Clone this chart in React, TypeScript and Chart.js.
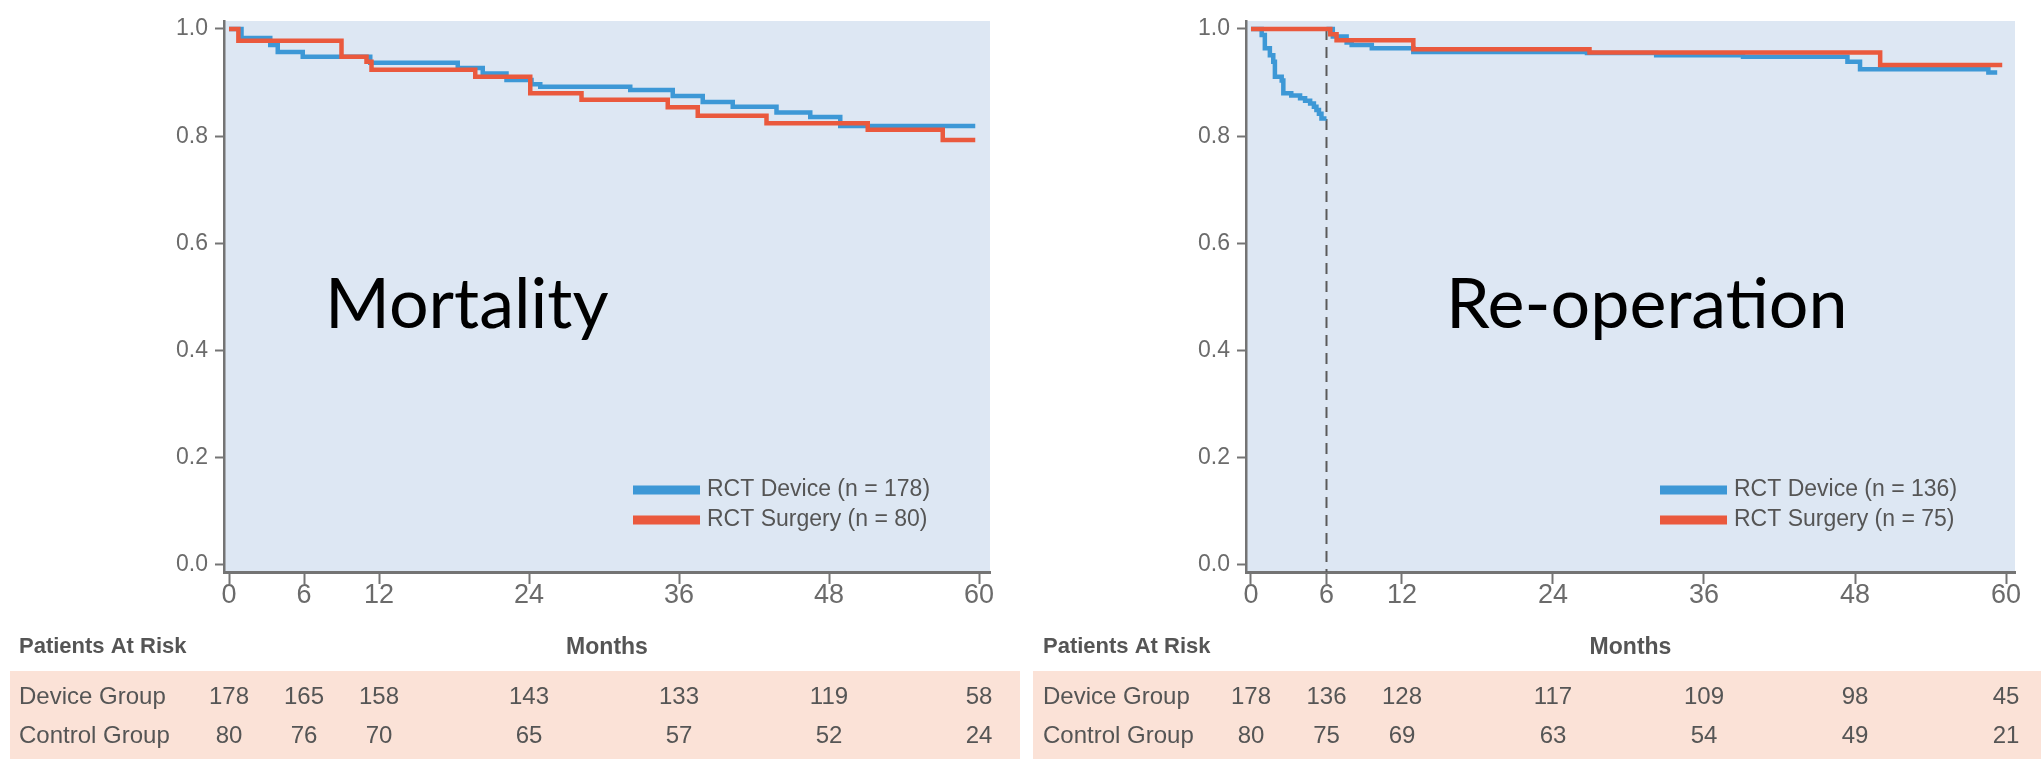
import React, { useEffect, useRef } from 'react';
import { Chart, registerables } from 'chart.js';

Chart.register(...registerables);

// ---------------- data ----------------
const MONTH_TICKS = [0, 6, 12, 24, 36, 48, 60];
const SURV_TICKS = [0, 0.2, 0.4, 0.6, 0.8, 1.0];
const ROW_LABELS = ['Device Group', 'Control Group'];
const PANEL_TITLES = ['Mortality', 'Re-operation'];
const MORT_LEGEND = ['RCT Device (n = 178)', 'RCT Surgery (n = 80)'];
const REOP_LEGEND = ['RCT Device (n = 136)', 'RCT Surgery (n = 75)'];
const REOP_MARKER_MONTH = 6;

// Mortality – Kaplan-Meier steps (month of event, survival after event)
const mortDeviceT = [0, 1.0, 3.3, 3.9, 5.9, 11.3, 18.3, 20.3, 22.2, 24.2, 24.9, 32.1, 35.5, 37.9, 40.3, 43.8, 46.5, 48.9, 59.7];
const mortDeviceS = [1.0, 0.983, 0.970, 0.957, 0.948, 0.937, 0.927, 0.917, 0.905, 0.897, 0.892, 0.886, 0.875, 0.864, 0.855, 0.844, 0.836, 0.819, 0.819];
const mortSurgeryT = [0, 0.75, 9.0, 11.0, 11.4, 19.7, 24.1, 28.2, 35.1, 37.5, 43.0, 51.1, 57.1, 59.7];
const mortSurgeryS = [1.0, 0.978, 0.948, 0.939, 0.924, 0.911, 0.880, 0.868, 0.854, 0.838, 0.824, 0.812, 0.793, 0.793];

// Re-operation – device group before and after the 6-month mark
const reopDeviceEarlyT = [0, 0.7, 0.85, 1.1, 1.5, 1.77, 1.9, 2.44, 2.57, 3.2, 3.9, 4.3, 4.7, 5.0, 5.2, 5.4, 5.6, 6.0];
const reopDeviceEarlyS = [1.0, 1.0, 0.989, 0.964, 0.951, 0.939, 0.911, 0.904, 0.880, 0.876, 0.871, 0.866, 0.861, 0.855, 0.849, 0.842, 0.833, 0.833];
const reopDeviceT = [6.0, 6.5, 7.6, 8.0, 9.6, 12.9, 26.7, 32.2, 39.1, 47.4, 48.4, 58.6, 59.3];
const reopDeviceS = [1.0, 0.986, 0.975, 0.970, 0.964, 0.957, 0.955, 0.951, 0.948, 0.939, 0.925, 0.919, 0.919];
const reopSurgeryT = [0, 6.3, 6.8, 12.9, 26.9, 50.0, 59.7];
const reopSurgeryS = [1.0, 0.99, 0.979, 0.962, 0.956, 0.933, 0.933];

// Patients at risk at MONTH_TICKS
const mortDeviceRisk = [178, 165, 158, 143, 133, 119, 58];
const mortControlRisk = [80, 76, 70, 65, 57, 52, 24];
const reopDeviceRisk = [178, 136, 128, 117, 109, 98, 45];
const reopControlRisk = [80, 75, 69, 63, 54, 49, 21];

// ---------------- helpers ----------------
type Pt = { x: number; y: number | null };
const toPoints = (t: number[], s: number[]): Pt[] => t.map((x, i) => ({ x, y: s[i] }));

const BLUE = '#3d98d6';
const RED = '#ea593d';
const AXIS = '#747474';
const TXT = '#555555';
const FONT = '"Liberation Sans", Arial, sans-serif';
const H = 759;

type PanelProps = {
  left: number;
  width: number;
  title: string;
  titleX: number;
  legend: string[];
  device: Pt[];
  surgery: Pt[];
  deviceRisk: number[];
  controlRisk: number[];
  axisLeft: number;
  axisRight: number;
  xMin: number;
  xMax: number;
  bandLeft: number;
  legendX: number;
  tableX: number;
  marker?: number;
};

function KMPanel(p: PanelProps) {
  const ref = useRef<HTMLCanvasElement>(null);
  useEffect(() => {
    const canvas = ref.current!;
    const decor = {
      id: 'decor',
      beforeDraw(chart: any) {
        const { ctx, chartArea } = chart;
        ctx.save();
        ctx.fillStyle = '#fbe2d7';
        ctx.fillRect(p.bandLeft, 671, p.width - p.bandLeft, H - 671);
        ctx.fillStyle = '#dde7f3';
        ctx.fillRect(chartArea.left, chartArea.top, chartArea.right - chartArea.left, chartArea.bottom - chartArea.top);
        ctx.restore();
      },
      beforeDatasetsDraw(chart: any) {
        if (p.marker === undefined) return;
        const { ctx, chartArea, scales } = chart;
        const x = scales.x.getPixelForValue(p.marker);
        ctx.save();
        ctx.strokeStyle = '#5a5a5a';
        ctx.lineWidth = 2;
        ctx.setLineDash([11, 7]);
        ctx.beginPath();
        ctx.moveTo(x, scales.y.getPixelForValue(1.0));
        ctx.lineTo(x, chartArea.bottom);
        ctx.stroke();
        ctx.restore();
      },
      afterDraw(chart: any) {
        const { ctx, scales } = chart;
        ctx.save();
        // panel title
        ctx.fillStyle = '#000';
        ctx.font = '70px Lato, "Open Sans", sans-serif';
        ctx.textAlign = 'left';
        ctx.textBaseline = 'alphabetic';
        ctx.fillText(p.title, p.titleX, 328);
        // legend
        const cols = [BLUE, RED];
        cols.forEach((c, i) => {
          const y = 490 + i * 30;
          ctx.strokeStyle = c;
          ctx.lineWidth = 9;
          ctx.beginPath();
          ctx.moveTo(p.legendX, y);
          ctx.lineTo(p.legendX + 67, y);
          ctx.stroke();
          ctx.fillStyle = TXT;
          ctx.font = `23px ${FONT}`;
          ctx.textBaseline = 'middle';
          ctx.fillText(p.legend[i], p.legendX + 74, y);
        });
        // patients at risk table
        ctx.fillStyle = TXT;
        ctx.font = `bold 22px ${FONT}`;
        ctx.textAlign = 'left';
        ctx.textBaseline = 'middle';
        ctx.fillText('Patients At Risk', p.tableX, 647);
        ctx.font = `24px ${FONT}`;
        const rows = [p.deviceRisk, p.controlRisk];
        rows.forEach((vals, r) => {
          const y = 697 + r * 39;
          ctx.textAlign = 'left';
          ctx.fillText(ROW_LABELS[r], p.tableX, y);
          ctx.textAlign = 'center';
          vals.forEach((v, i) => {
            ctx.fillText(String(v), scales.x.getPixelForValue(MONTH_TICKS[i]), y);
          });
        });
        ctx.restore();
      },
    };

    const chart = new Chart(canvas, {
      type: 'line',
      data: {
        datasets: [
          {
            label: p.legend[0],
            data: p.device as any,
            borderColor: BLUE,
            borderWidth: 4.5,
            stepped: true,
            pointRadius: 0,
            fill: false,
            order: 1,
          },
          {
            label: p.legend[1],
            data: p.surgery as any,
            borderColor: RED,
            borderWidth: 4.5,
            stepped: true,
            pointRadius: 0,
            fill: false,
            order: 0,
          },
        ],
      },
      options: {
        animation: false,
        responsive: false,
        devicePixelRatio: 1,
        layout: { padding: { left: 0, top: 21, right: p.width - p.axisRight, bottom: 0 } },
        plugins: { legend: { display: false }, tooltip: { enabled: false } },
        scales: {
          x: {
            type: 'linear',
            min: p.xMin,
            max: p.xMax,
            afterBuildTicks: (s: any) => {
              s.ticks = MONTH_TICKS.map((v) => ({ value: v }));
            },
            afterFit: (s: any) => {
              s.height = H - 572;
            },
            grid: { drawOnChartArea: false, drawTicks: true, tickLength: 12, tickWidth: 2, tickColor: AXIS },
            border: { display: true, color: AXIS, width: 3 },
            ticks: {
              color: '#6b6b6b',
              font: { family: FONT, size: 27 },
              padding: -5,
              maxRotation: 0,
              autoSkip: false,
              callback: (v: any) => String(v),
            },
            title: {
              display: true,
              text: 'Months',
              color: TXT,
              font: { family: FONT, size: 23, weight: 'bold' },
              padding: { top: 0, bottom: 98 },
            },
          },
          y: {
            type: 'linear',
            min: -0.0131,
            max: 1.0149,
            afterBuildTicks: (s: any) => {
              s.ticks = SURV_TICKS.map((v) => ({ value: v }));
            },
            afterFit: (s: any) => {
              s.width = p.axisLeft;
            },
            grid: { drawOnChartArea: false, drawTicks: true, tickLength: 9, tickWidth: 2, tickColor: AXIS },
            border: { display: true, color: AXIS, width: 2.5 },
            ticks: {
              color: '#6b6b6b',
              font: { family: FONT, size: 23 },
              padding: 7,
              autoSkip: false,
              callback: (v: any) => Number(v).toFixed(1),
            },
          },
        },
      },
      plugins: [decor],
    });
    return () => chart.destroy();
  }, []);
  return (
    <canvas
      ref={ref}
      width={p.width}
      height={H}
      style={{ position: 'absolute', left: p.left, top: 0, width: p.width, height: H }}
    />
  );
}

export default function App() {
  const reopDevice = [
    ...toPoints(reopDeviceEarlyT, reopDeviceEarlyS),
    { x: REOP_MARKER_MONTH, y: null },
    ...toPoints(reopDeviceT, reopDeviceS),
  ];
  return (
    <div style={{ position: 'fixed', left: 0, top: 0, width: 2041, height: H, background: '#fff', overflow: 'hidden' }}>
      <KMPanel
        left={0}
        width={1020}
        title={PANEL_TITLES[0]}
        titleX={325}
        legend={MORT_LEGEND}
        device={toPoints(mortDeviceT, mortDeviceS)}
        surgery={toPoints(mortSurgeryT, mortSurgeryS)}
        deviceRisk={mortDeviceRisk}
        controlRisk={mortControlRisk}
        axisLeft={224}
        axisRight={990}
        xMin={-0.4}
        xMax={60.88}
        bandLeft={10}
        legendX={633}
        tableX={19}
      />
      <KMPanel
        left={1020}
        width={1021}
        title={PANEL_TITLES[1]}
        titleX={426}
        legend={REOP_LEGEND}
        device={reopDevice}
        surgery={toPoints(reopSurgeryT, reopSurgeryS)}
        deviceRisk={reopDeviceRisk}
        controlRisk={reopControlRisk}
        axisLeft={226}
        axisRight={995}
        xMin={-0.397}
        xMax={60.715}
        bandLeft={13}
        legendX={640}
        tableX={23}
        marker={REOP_MARKER_MONTH}
      />
    </div>
  );
}
